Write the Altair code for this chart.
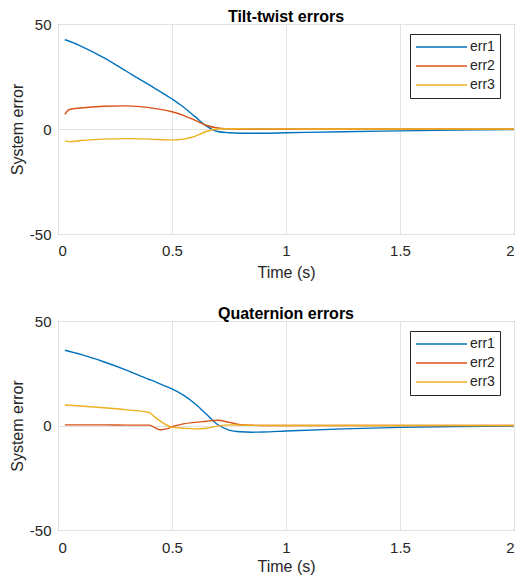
import altair as alt
import pandas as pd

series = ["err1", "err2", "err3"]
colors = ["#0072BD", "#D95319", "#EDB120"]

t_top = [0.03, 0.05, 0.1, 0.2, 0.3, 0.4, 0.5, 0.55, 0.6, 0.65, 0.7, 0.75, 0.8, 0.9, 1.0, 1.25, 1.5, 1.75, 2.0]
err1_top = [42.5, 41.8, 39.5, 34.0, 27.5, 21.0, 14.3, 10.5, 6.0, 1.5, -1.2, -1.8, -2.0, -2.0, -1.8, -1.3, -0.9, -0.5, -0.3]
err2_top = [7.0, 9.3, 10.0, 10.8, 11.0, 10.2, 8.2, 6.5, 4.2, 1.8, 0.5, 0.1, 0.0, 0.0, 0.0, 0.0, 0.0, 0.0, 0.0]
err3_top = [-5.5, -6.0, -5.5, -4.8, -4.6, -4.8, -5.2, -4.8, -3.5, -1.2, 0.0, 0.1, 0.1, 0.05, 0.05, 0.0, 0.0, 0.0, 0.0]

t_bot = [0.03, 0.1, 0.2, 0.3, 0.4, 0.42, 0.45, 0.48, 0.5, 0.55, 0.6, 0.65, 0.7, 0.75, 0.8, 0.85, 0.9, 1.0, 1.25, 1.5, 1.75, 2.0]
err1_bot = [36.0, 34.0, 30.5, 26.5, 22.0, 21.2, 19.8, 18.5, 17.5, 14.5, 10.5, 5.5, 0.5, -2.2, -3.0, -3.2, -3.1, -2.6, -1.6, -0.9, -0.5, -0.3]
err2_bot = [0.3, 0.3, 0.3, 0.2, 0.2, -0.8, -2.0, -1.5, -0.6, 0.8, 1.5, 2.0, 2.5, 1.5, 0.4, 0.1, 0.0, 0.0, 0.0, 0.0, 0.0, 0.0]
err3_bot = [9.8, 9.3, 8.5, 7.5, 6.2, 4.5, 2.0, 0.0, -0.8, -1.3, -1.6, -1.3, -0.3, 0.3, 0.2, 0.1, 0.0, 0.0, 0.0, 0.0, 0.0, 0.0]

x_ticks = [0, 0.5, 1, 1.5, 2]
y_ticks = [-50, 0, 50]

LABEL_EXPR = "datum.value < 0 ? '-' + format(-datum.value, '~g') : format(datum.value, '~g')"


def long_df(t, cols):
    rows = []
    for name, vals in zip(series, cols):
        for ti, v in zip(t, vals):
            rows.append({"t": ti, "v": v, "series": name})
    return pd.DataFrame(rows)


def panel(df, title, h, xlab_pad, xtitle_pad):
    return alt.Chart(df).mark_line(strokeWidth=1.4, interpolate="monotone").encode(
        x=alt.X("t:Q", scale=alt.Scale(domain=[0, 2], nice=False),
                axis=alt.Axis(values=x_ticks, labelExpr=LABEL_EXPR, title="Time (s)",
                              labelPadding=xlab_pad, titlePadding=xtitle_pad)),
        y=alt.Y("v:Q", scale=alt.Scale(domain=[-50, 50], nice=False),
                axis=alt.Axis(values=y_ticks, labelExpr=LABEL_EXPR, title="System error")),
        color=alt.Color("series:N", scale=alt.Scale(domain=series, range=colors),
                        legend=alt.Legend(title=None, orient="none", legendX=352, legendY=10)),
    ).properties(width=456, height=h, title=title)


top = panel(long_df(t_top, [err1_top, err2_top, err3_top]), "Tilt-twist errors", 210, 9, 6)
bot = panel(long_df(t_bot, [err1_bot, err2_bot, err3_bot]), "Quaternion errors", 209, 10, 3)

chart = alt.vconcat(top, bot, spacing=24).resolve_legend(color="independent").properties(
    padding={"left": 0, "top": 0, "right": 0, "bottom": 0}
).configure_view(
    stroke="#262626", strokeWidth=1
).configure_axis(
    labelFont="Liberation Sans", titleFont="Liberation Sans",
    labelFontSize=15, titleFontSize=16, labelColor="#262626", titleColor="#262626",
    titleFontWeight="normal", grid=True, gridColor="#e3e3e3", gridWidth=1,
    domain=False, ticks=False, labelPadding=7,
).configure_axisY(titlePadding=4).configure_title(
    font="Liberation Sans", fontSize=16, fontWeight="bold", color="#000000", offset=-8
).configure_legend(
    strokeColor="#262626", fillColor="white",
    padding=5, symbolType="stroke", symbolSize=2601, symbolStrokeWidth=1.5,
    labelFont="Liberation Sans", labelFontSize=14, labelColor="#262626", labelOffset=2,
    clipHeight=16, rowPadding=3, cornerRadius=0
)

chart.save("out.html", embed_options={"renderer": "svg", "actions": False})
